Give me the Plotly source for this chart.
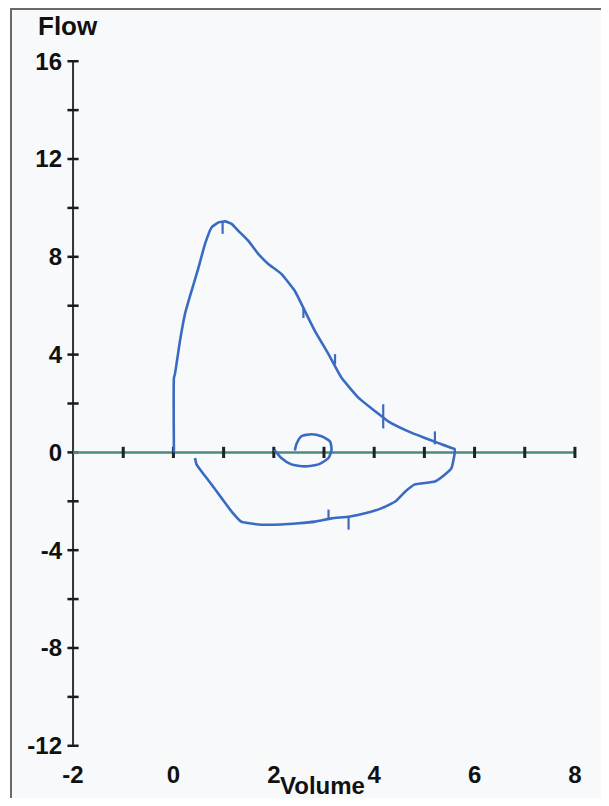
import plotly.graph_objects as go

# ---- data ----
loop_x = [0.01, 0.01, 0.03, 0.13, 0.23, 0.36, 0.50, 0.63, 0.76, 0.90, 1.03, 1.16, 1.29, 1.49,
          1.69, 1.89, 2.15, 2.42, 2.62, 2.82, 3.09, 3.35, 3.69, 4.02, 4.28, 4.68, 5.01, 5.28,
          5.54, 5.60, 5.60, 5.54, 5.41, 5.21, 4.81, 4.62, 4.42, 4.14, 3.82, 3.49, 3.15, 2.82,
          2.49, 2.15, 1.69, 1.35, 1.16, 0.96, 0.76, 0.56, 0.46, 0.43]
loop_y = [0.00, 3.05, 3.20, 4.55, 5.66, 6.60, 7.56, 8.53, 9.20, 9.41, 9.45, 9.35, 9.07, 8.66,
          8.12, 7.71, 7.30, 6.60, 5.78, 4.96, 4.02, 3.05, 2.23, 1.68, 1.27, 0.86, 0.59, 0.38,
          0.18, 0.15, -0.08, -0.64, -0.90, -1.19, -1.31, -1.60, -2.01, -2.29, -2.49, -2.63,
          -2.70, -2.83, -2.90, -2.95, -2.95, -2.83, -2.42, -1.87, -1.31, -0.78, -0.49, -0.23]

small_x = [2.01, 2.15, 2.35, 2.62, 2.89, 3.09, 3.15, 3.12, 2.95, 2.75, 2.55, 2.45, 2.42]
small_y = [0.11, -0.23, -0.49, -0.57, -0.49, -0.23, 0.11, 0.45, 0.66, 0.74, 0.66, 0.33, 0.08]

# timing marks on the curve (x, y_top, y_bottom)
mark_x = [0.98, 2.59, 3.22, 4.18, 5.21, 3.09, 3.49]
mark_y0 = [9.45, 5.92, 4.02, 1.97, 0.86, -2.34, -2.63]
mark_y1 = [8.94, 5.50, 3.60, 0.98, 0.33, -2.75, -3.16]

y_ticks = [16, 12, 8, 4, 0, -4, -8, -12]
y_minor = [16, 14, 12, 10, 8, 6, 4, 2, 0, -2, -4, -6, -8, -10, -12]
x_ticks = [-2, 0, 2, 4, 6, 8]
x_minor = [-1, 0, 1, 2, 3, 4, 5, 6, 7, 8]

# the page body has an 8px margin, so the figure is sized to fit inside the window
OFF = 8
W, H = 609 - OFF, 806 - 2 * OFF
L, T = 63 - OFF, 49 - OFF
pw, ph = 527, 709
R, B = W - L - pw, H - T - ph

def px_x(px):  # page pixel -> paper x
    return (px - OFF - L) / pw

def px_y(py):  # page pixel -> paper y
    return 1 - (py - OFF - T) / ph

fig = go.Figure()

# vertical axis line with ticks
fig.add_trace(go.Scatter(x=[-2, -2], y=[y_minor[-1], y_minor[0]], mode="lines",
                         line=dict(color="#2b3535", width=2), hoverinfo="skip"))
fig.add_trace(go.Scatter(x=[-2] * len(y_minor), y=y_minor, mode="markers",
                         marker=dict(symbol="line-ew", size=8, line=dict(color="#1a1a1a", width=2.5)),
                         hoverinfo="skip"))
# horizontal zero line with ticks
fig.add_trace(go.Scatter(x=[-2, x_minor[-1]], y=[0, 0], mode="lines",
                         line=dict(color="#4e8884", width=2.5), hoverinfo="skip"))
fig.add_trace(go.Scatter(x=x_minor, y=[0] * len(x_minor), mode="markers",
                         marker=dict(symbol="line-ns", size=8, line=dict(color="#1a2222", width=3)),
                         hoverinfo="skip"))

blue = "#3a6bc2"
fig.add_trace(go.Scatter(x=loop_x, y=loop_y, mode="lines",
                         line=dict(color=blue, width=2.6, shape="spline", smoothing=0.4)))
fig.add_trace(go.Scatter(x=small_x, y=small_y, mode="lines",
                         line=dict(color=blue, width=2.6, shape="spline", smoothing=0.6)))
mx, my = [], []
for a, b0, b1 in zip(mark_x, mark_y0, mark_y1):
    mx += [a, a, None]
    my += [b0, b1, None]
fig.add_trace(go.Scatter(x=mx, y=my, mode="lines", line=dict(color=blue, width=2.2)))

tick_font = dict(family="Liberation Sans", size=24, color="#111111", weight="bold")

fig.update_layout(
    width=W, height=H,
    margin=dict(l=L, r=R, t=T, b=B, autoexpand=False),
    paper_bgcolor="white",
    plot_bgcolor="rgba(0,0,0,0)",
    showlegend=False,
    xaxis=dict(range=[-2.2, 8.3], showgrid=False, zeroline=False, showline=False,
               tickmode="array", tickvals=x_ticks, ticktext=[str(v) for v in x_ticks],
               tickfont=tick_font, ticks="", automargin=False),
    yaxis=dict(range=[-12.5, 16.5], showgrid=False, zeroline=False, showline=False,
               tickmode="array", tickvals=y_ticks, ticktext=[str(v) for v in y_ticks],
               tickfont=tick_font, ticks="", automargin=False),
    shapes=[dict(type="rect", xref="paper", yref="paper", layer="below",
                 x0=px_x(11), x1=px_x(607), y0=px_y(830), y1=px_y(OFF + 1),
                 line=dict(color="#6a6a6a", width=2), fillcolor="#f8f9fb")],
    annotations=[
        dict(text="Flow", xref="paper", yref="paper", x=px_x(68), y=px_y(26),
             xanchor="center", yanchor="middle", showarrow=False,
             font=dict(family="Liberation Sans", size=26, color="#111111", weight="bold")),
        dict(text="Volume", xref="paper", yref="paper", x=px_x(322), y=px_y(785),
             xanchor="center", yanchor="middle", showarrow=False,
             font=dict(family="Liberation Sans", size=24, color="#111111", weight="bold")),
    ],
)

fig.write_html("out.html")
